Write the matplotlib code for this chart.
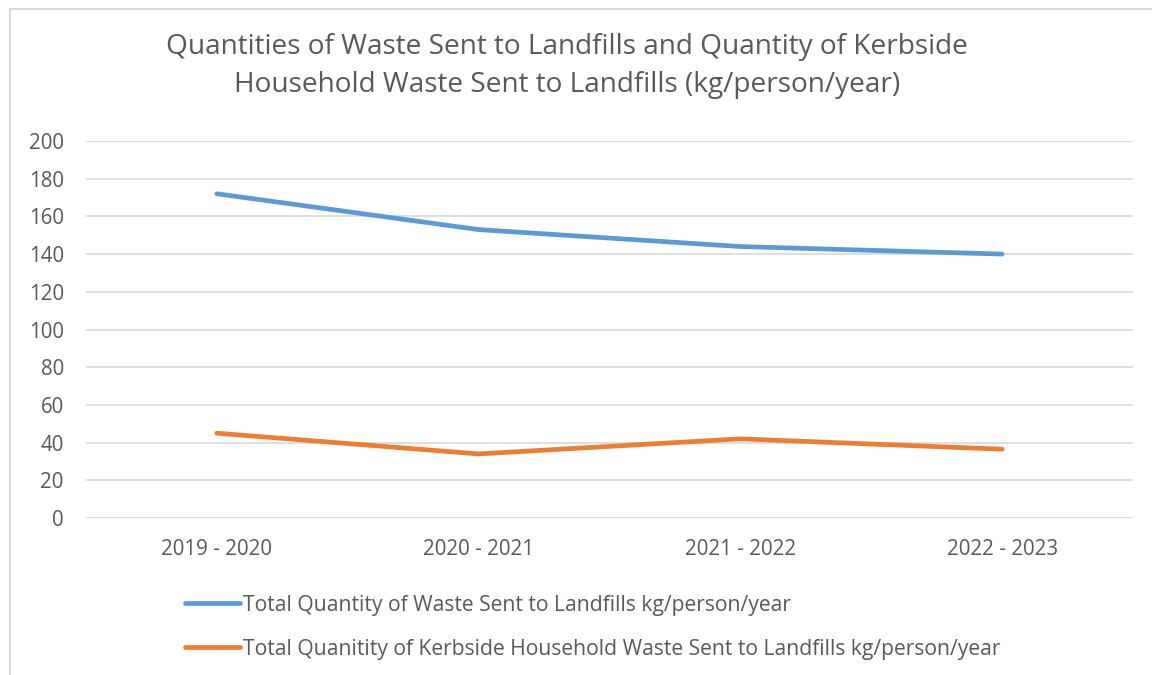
import matplotlib
matplotlib.use("Agg")
import matplotlib.pyplot as plt
from matplotlib.patches import Rectangle

periods = ["2019 - 2020", "2020 - 2021", "2021 - 2022", "2022 - 2023"]
total_waste = [172, 153, 144, 140]
kerbside_waste = [45, 34, 42, 36.5]
series_labels = [
    "Total Quantity of Waste Sent to Landfills kg/person/year",
    "Total Quanitity of Kerbside Household Waste Sent to Landfills kg/person/year",
]
title = ("Quantities of Waste Sent to Landfills and Quantity of Kerbside\n"
         "Household Waste Sent to Landfills (kg/person/year)")
yticks = list(range(0, 201, 20))

plt.rcParams['font.family'] = ['Open Sans', 'DejaVu Sans']
TXT = '#595959'

W, H = 1152, 675
fig = plt.figure(figsize=(W / 100, H / 100), dpi=100)
fig.patch.set_facecolor('white')

# outer chart border (cropped at right/bottom)
fig.add_artist(Rectangle((10 / W, -0.1), 1.2, (H - 9) / H + 0.1,
                         transform=fig.transFigure, fill=False,
                         edgecolor='#d9d9d9', linewidth=1.5))

ax = fig.add_axes([86 / W, 1 - 518 / H, (1133 - 86) / W, (518 - 141) / H])
x = [i + 0.5 for i in range(len(periods))]
l1, = ax.plot(x, total_waste, color='#5B9BD5', lw=3.4, solid_capstyle='round',
              solid_joinstyle='round', label=series_labels[0], zorder=3)
l2, = ax.plot(x, kerbside_waste, color='#ED7D31', lw=3.4, solid_capstyle='round',
              solid_joinstyle='round', label=series_labels[1], zorder=3)

ax.set_xlim(0, len(periods))
ax.set_ylim(0, 200)
ax.set_yticks(yticks)
ax.set_xticks(x)
ax.set_xticklabels(periods)
ax.grid(axis='y', color='#d9d9d9', lw=1.2)
ax.set_axisbelow(True)
for s in ax.spines.values():
    s.set_visible(False)
ax.tick_params(axis='both', length=0, colors=TXT, labelsize=14.8)
ax.tick_params(axis='y', pad=16)
ax.tick_params(axis='x', pad=15)

fig.text(567 / W, 1 - 66 / H, title, ha='center', va='center',
         fontsize=20.2, color=TXT, linespacing=1.5)

leg = fig.legend(handles=[l1, l2], loc='upper left',
                 bbox_to_anchor=(174 / W, 1 - 584 / H), frameon=False,
                 fontsize=15.2, handlelength=2.65, handletextpad=0.12,
                 labelspacing=1.1, borderpad=0)
for t in leg.get_texts():
    t.set_color(TXT)

fig.savefig('out.png', dpi=100, facecolor='white')
